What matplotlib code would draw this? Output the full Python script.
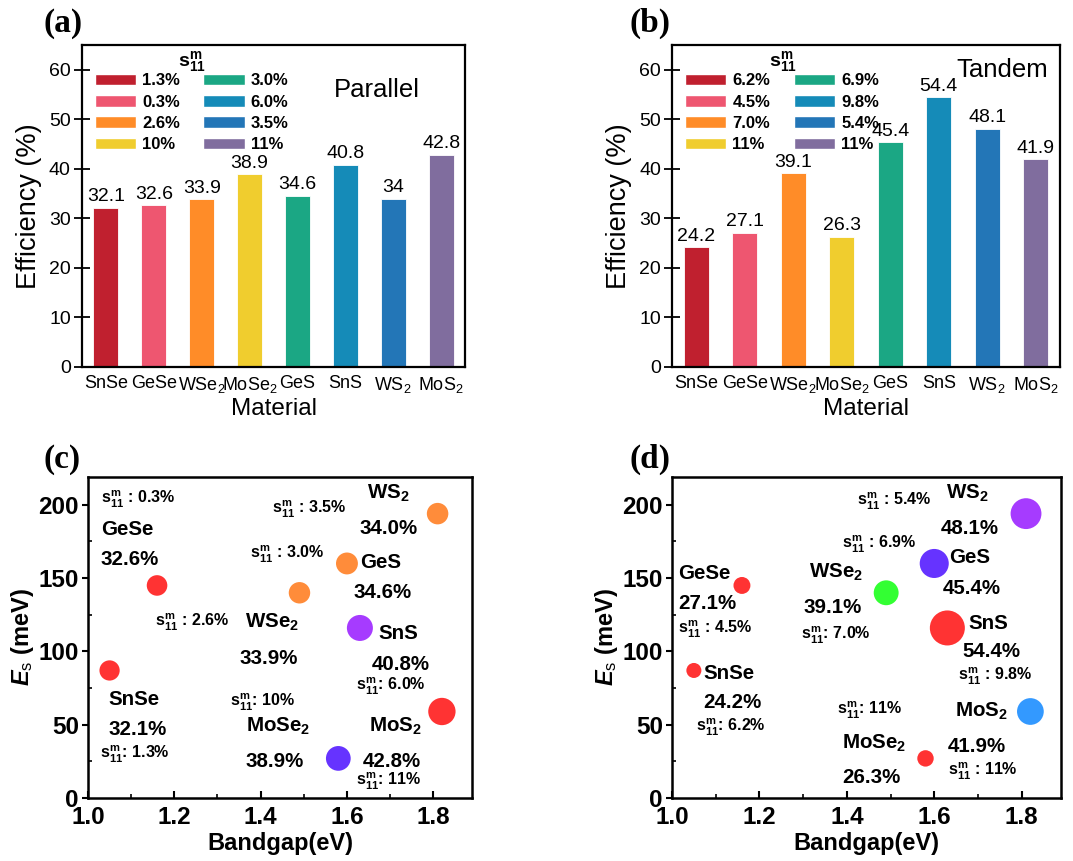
import numpy as np
import matplotlib
matplotlib.use("Agg")
import matplotlib.pyplot as plt
from matplotlib.patches import Patch
from matplotlib.ticker import MultipleLocator, FormatStrFormatter

plt.rcParams["font.family"] = ["Liberation Sans", "DejaVu Sans"]
plt.rcParams["mathtext.fontset"] = "custom"
plt.rcParams["mathtext.rm"] = "Liberation Sans"
plt.rcParams["mathtext.bf"] = "Liberation Sans:bold"
plt.rcParams["mathtext.it"] = "Liberation Sans:italic:bold"

# datos
materials = ["SnSe", "GeSe", "WSe$_2$", "MoSe$_2$", "GeS", "SnS", "WS$_2$", "MoS$_2$"]
bar_colors = ["#C0202F", "#EE5670", "#FF8C28", "#F0CD2E", "#1BA784", "#158BB8", "#2376B7", "#806D9E"]

eff_par = [32.1, 32.6, 33.9, 38.9, 34.6, 40.8, 34.0, 42.8]
eff_par_txt = ["32.1", "32.6", "33.9", "38.9", "34.6", "40.8", "34", "42.8"]
strain_par = ["1.3%", "0.3%", "2.6%", "10%", "3.0%", "6.0%", "3.5%", "11%"]

eff_tan = [24.2, 27.1, 39.1, 26.3, 45.4, 54.4, 48.1, 41.9]
eff_tan_txt = ["24.2", "27.1", "39.1", "26.3", "45.4", "54.4", "48.1", "41.9"]
strain_tan = ["6.2%", "4.5%", "7.0%", "11%", "6.9%", "9.8%", "5.4%", "11%"]

bandgap = [1.05, 1.16, 1.49, 1.58, 1.60, 1.63, 1.81, 1.82]
es = [87, 145, 140, 27, 160, 116, 194, 59]

dot_colors_par = ["#FF3333", "#FF3333", "#FF8C3A", "#6633FF", "#FF8C3A", "#A63BFF", "#FF8C3A", "#FF3333"]
dot_colors_tan = ["#FF3333", "#FF3333", "#33FF33", "#FF3333", "#6633FF", "#FF3333", "#A63BFF", "#3399FF"]

S11 = r"$\mathbf{s}^\mathbf{m}_\mathbf{11}$"
BIG, SMALL = 14.8, 11.5

# etiquetas de (c) y (d): x, y, texto, tamaño
labels_c = [
    (1.03, 204, S11 + " : 0.3%", SMALL), (1.03, 183, "GeSe", BIG), (1.03, 163, "32.6%", BIG),
    (1.155, 120, S11 + " : 2.6%", SMALL), (1.364, 120, "WSe$_\\mathbf{2}$", BIG), (1.35, 95, "33.9%", BIG),
    (1.427, 197, S11 + " : 3.5%", SMALL), (1.647, 208, "WS$_\\mathbf{2}$", BIG), (1.63, 184, "34.0%", BIG),
    (1.375, 166, S11 + " : 3.0%", SMALL), (1.63, 161, "GeS", BIG), (1.615, 140, "34.6%", BIG),
    (1.673, 112, "SnS", BIG), (1.658, 91, "40.8%", BIG), (1.62, 76, S11 + ": 6.0%", SMALL),
    (1.047, 67, "SnSe", BIG), (1.047, 47, "32.1%", BIG), (1.027, 30, S11 + ": 1.3%", SMALL),
    (1.328, 65, S11 + ": 10%", SMALL), (1.366, 49, "MoSe$_\\mathbf{2}$", BIG), (1.366, 25, "38.9%", BIG),
    (1.652, 49, "MoS$_\\mathbf{2}$", BIG), (1.637, 25, "42.8%", BIG), (1.62, 11, S11 + ": 11%", SMALL),
]
labels_d = [
    (1.424, 202, S11 + " : 5.4%", SMALL), (1.628, 208, "WS$_\\mathbf{2}$", BIG), (1.615, 184, "48.1%", BIG),
    (1.39, 173, S11 + " : 6.9%", SMALL), (1.635, 164, "GeS", BIG), (1.619, 143, "45.4%", BIG),
    (1.014, 153, "GeSe", BIG), (1.014, 133, "27.1%", BIG), (1.014, 115, S11 + " : 4.5%", SMALL),
    (1.314, 154, "WSe$_\\mathbf{2}$", BIG), (1.30, 130, "39.1%", BIG), (1.294, 111, S11 + ": 7.0%", SMALL),
    (1.679, 119, "SnS", BIG), (1.665, 100, "54.4%", BIG), (1.654, 83, S11 + " : 9.8%", SMALL),
    (1.071, 85, "SnSe", BIG), (1.071, 65, "24.2%", BIG), (1.055, 48, S11 + ": 6.2%", SMALL),
    (1.378, 60, S11 + ": 11%", SMALL), (1.39, 37, "MoSe$_\\mathbf{2}$", BIG), (1.39, 14, "26.3%", BIG),
    (1.647, 59, "MoS$_\\mathbf{2}$", BIG), (1.631, 35, "41.9%", BIG), (1.631, 18, S11 + " : 11%", SMALL),
]


def bar_panel(ax, vals, txts, strains, mode, mode_xy):
    x = np.arange(len(materials))
    ax.bar(x, vals, width=0.52, color=bar_colors, edgecolor="white", linewidth=0.6)
    for xi, v, t in zip(x, vals, txts):
        ax.text(xi, v + 0.5, t, ha="center", va="bottom", fontsize=14)
    ax.set_xlim(-0.5, 7.5)
    ax.set_ylim(0, 65)
    ax.set_xticks(x)
    ax.set_xticklabels(materials, fontsize=13)
    ax.set_yticks(range(0, 61, 10))
    ax.tick_params(axis="y", direction="inout", length=12, width=1.3, labelsize=14, pad=2)
    ax.tick_params(axis="x", length=0, pad=6)
    ax.set_xlabel("Material", fontsize=17.5, labelpad=2)
    ax.set_ylabel("Efficiency (%)", fontsize=19.5, labelpad=5)
    for s in ax.spines.values():
        s.set_linewidth(1.6)
    handles = [Patch(facecolor=c, edgecolor="white", label=s) for c, s in zip(bar_colors, strains)]
    ax.legend(handles=handles, ncol=2, loc="upper left", bbox_to_anchor=(0.033, 0.912),
              frameon=False, prop={"weight": "bold", "size": 12}, handlelength=2.5,
              handleheight=0.7, labelspacing=0.38, handletextpad=0.35, columnspacing=1.4,
              borderpad=0, borderaxespad=0)
    ax.text(0.25, 0.95, S11, transform=ax.transAxes, fontsize=14, va="center")
    ax.text(mode_xy[0], mode_xy[1], mode, transform=ax.transAxes, fontsize=18.5,
            ha="center", va="center")


def scatter_panel(ax, effs, colors, labels):
    # radio de cada punto proporcional a la eficiencia
    r_px = 0.331 * np.array(effs) - 0.5
    d_pt = 2 * r_px * 72 / 100
    ax.scatter(bandgap, es, s=d_pt ** 2, c=colors, linewidths=0, zorder=3)
    for x, y, t, fs in labels:
        ax.text(x, y, t, fontsize=fs, fontweight="bold", ha="left", va="center")
    ax.set_xlim(1.0, 1.89)
    ax.set_ylim(0, 219)
    ax.xaxis.set_major_locator(MultipleLocator(0.2))
    ax.xaxis.set_minor_locator(MultipleLocator(0.1))
    ax.yaxis.set_major_locator(MultipleLocator(50))
    ax.yaxis.set_minor_locator(MultipleLocator(25))
    ax.xaxis.set_major_formatter(FormatStrFormatter("%.1f"))
    ax.tick_params(axis="x", which="major", direction="in", length=5, width=1.5, labelsize=17.5, pad=6)
    ax.tick_params(axis="y", which="major", direction="out", length=4.5, width=1.5, labelsize=17.5, pad=2)
    ax.tick_params(which="minor", direction="in", length=3, width=1.2)
    for lab in ax.get_xticklabels() + ax.get_yticklabels():
        lab.set_fontweight("bold")
    ax.set_xlabel("Bandgap(eV)", fontsize=17, fontweight="bold", labelpad=2)
    ax.set_ylabel(r"$E_\mathrm{s}$ (meV)", fontsize=17, fontweight="bold", labelpad=2)
    for s in ax.spines.values():
        s.set_linewidth(1.8)


fig = plt.figure(figsize=(10.73, 8.61), dpi=100)
ax_a = fig.add_axes([0.0764, 0.5738, 0.357, 0.374])
ax_b = fig.add_axes([0.6263, 0.5738, 0.3616, 0.374])
ax_c = fig.add_axes([0.082, 0.0732, 0.358, 0.3728])
ax_d = fig.add_axes([0.6263, 0.0732, 0.3625, 0.3728])

bar_panel(ax_a, eff_par, eff_par_txt, strain_par, "Parallel", (0.77, 0.86))
bar_panel(ax_b, eff_tan, eff_tan_txt, strain_tan, "Tandem", (0.85, 0.922))
scatter_panel(ax_c, eff_par, dot_colors_par, labels_c)
scatter_panel(ax_d, eff_tan, dot_colors_tan, labels_d)

for lab, (fx, fy) in zip(["(a)", "(b)", "(c)", "(d)"],
                         [(0.059, 0.973), (0.606, 0.973), (0.058, 0.466), (0.606, 0.466)]):
    fig.text(fx, fy, lab, fontsize=24, fontweight="bold", family="Liberation Serif",
             ha="center", va="center")

fig.savefig("out.png", dpi=100)
